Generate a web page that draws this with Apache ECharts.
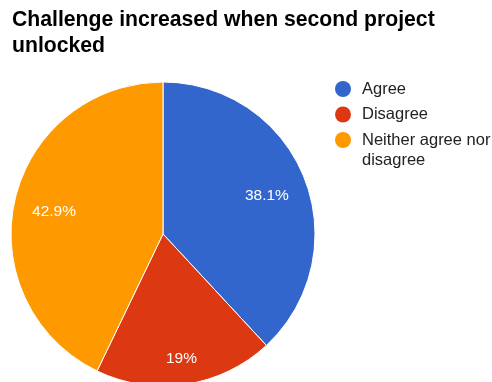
<!DOCTYPE html>
<html>
<head>
<meta charset="utf-8">
<script src="https://cdn.jsdelivr.net/npm/echarts@6/dist/echarts.min.js"></script>
<style>
  html, body { margin: 0; padding: 0; background: #fff; }
  #chart { width: 492px; height: 382px; }
</style>
</head>
<body>
<div id="chart"></div>
<script>
// Survey responses
const categories = ['Agree', 'Disagree', 'Neither agree nor disagree'];
const counts = [8, 4, 9];
const colors = ['#3366cc', '#dc3912', '#ff9900'];

const slices = categories.map((name, i) => ({ name, value: counts[i] }));
const total = counts.reduce((a, b) => a + b, 0);

const FONT = 'Arial, "Liberation Sans", sans-serif';
const center = [163, 234];
const radius = 152;
// outer corner of each percentage label sits on this circle
const labelReach = 135;
// glyphs sit a little below the middle of their text box
const labelDrop = 2.5;

// Push each label outward along its slice direction so that the label box's
// outer corner touches the labelReach circle.
function placeLabel(params) {
  const r = params.labelRect;
  const lx = r.x + r.width / 2;
  const ly = r.y + r.height / 2;
  const vx = lx - center[0];
  const vy = ly - center[1];
  const len = Math.hypot(vx, vy) || 1;
  const ux = vx / len, uy = vy / len;
  const kx = Math.sign(ux) * r.width / 2;
  const ky = Math.sign(uy) * r.height / 2;
  const uk = ux * kx + uy * ky;
  const d = -uk + Math.sqrt(uk * uk - (kx * kx + ky * ky) + labelReach * labelReach);
  return {
    dx: center[0] + d * ux - lx,
    dy: center[1] + d * uy - ly + labelDrop
  };
}

const chart = echarts.init(document.getElementById('chart'), null, { renderer: 'canvas' });
chart.setOption({
  animation: false,
  color: colors,
  title: {
    text: 'Challenge increased when second project unlocked',
    left: 7,
    top: 2,
    textStyle: {
      fontFamily: FONT,
      fontSize: 21.2,
      fontWeight: 'bold',
      color: '#000',
      width: 450,
      overflow: 'break',
      lineHeight: 26
    }
  },
  legend: {
    orient: 'vertical',
    left: 330,
    top: 73.5,
    icon: 'circle',
    itemWidth: 28,
    itemHeight: 16,
    itemGap: 4.5,
    selectedMode: false,
    itemStyle: { borderWidth: 0 },
    formatter: name => name === 'Neither agree nor disagree' ? 'Neither agree nor' : name,
    textStyle: {
      fontFamily: FONT,
      fontSize: 16.5,
      color: '#222',
      lineHeight: 21
    },
    data: categories
  },
  graphic: [
    {
      // wrapped second line of the last legend entry
      type: 'text',
      x: 362,
      y: 160.5,
      silent: true,
      style: {
        text: 'disagree',
        fontFamily: FONT,
        fontSize: 16.5,
        fill: '#222',
        verticalAlign: 'middle'
      }
    }
  ],
  series: [
    {
      type: 'pie',
      center: center,
      radius: [0, radius],
      startAngle: 90,
      clockwise: true,
      silent: true,
      itemStyle: { borderColor: '#fff', borderWidth: 1 },
      label: {
        show: true,
        position: 'inside',
        color: '#fff',
        fontFamily: FONT,
        fontSize: 15.5,
        formatter: p => Math.round(p.value / total * 1000) / 10 + '%'
      },
      labelLine: { show: false },
      labelLayout: placeLabel,
      data: slices
    }
  ]
});
</script>
</body>
</html>
